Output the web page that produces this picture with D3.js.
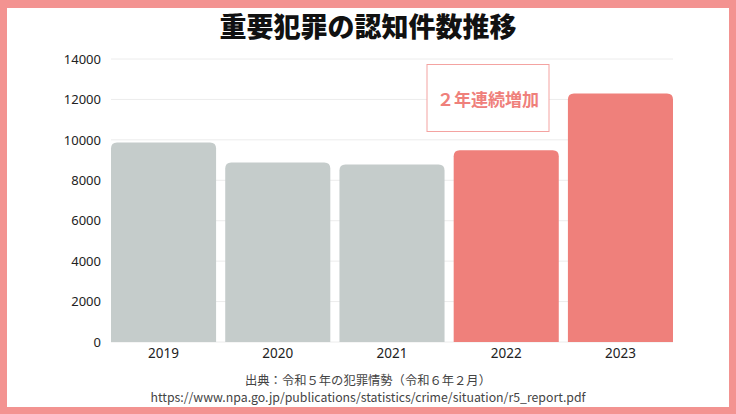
<!DOCTYPE html>
<html><head><meta charset="utf-8">
<script src="https://cdn.jsdelivr.net/npm/d3@7"></script>
<style>html,body{margin:0;padding:0;background:#fff;}svg{display:block;}</style>
</head><body>
<svg id="chart" width="736" height="414"></svg>
<script>
const years = ["2019","2020","2021","2022","2023"];
const counts = [9870, 8880, 8780, 9480, 12290];
const highlight = [false, false, false, true, true];
const yTicks = [0,2000,4000,6000,8000,10000,12000,14000];
const titleText = "重要犯罪の認知件数推移";
const noteText = "２年連続増加";
const sourceLines = ["出典：令和５年の犯罪情勢（令和６年２月）","https://www.npa.go.jp/publications/statistics/crime/situation/r5_report.pdf"];

const W = 736, H = 414;
const svg = d3.select("#chart");
const font = "'Noto Sans CJK JP','Noto Sans',sans-serif";
const numFont = "'Noto Sans',sans-serif";
const pink = "#f39391";

svg.append("rect").attr("x",0).attr("y",0).attr("width",W).attr("height",H).attr("fill",pink);
svg.append("rect").attr("x",7).attr("y",8).attr("width",W-14).attr("height",H-15).attr("fill","#fff");

const x = d3.scaleBand().domain(years).range([111,673]).paddingInner(0.08).paddingOuter(0);
const y = d3.scaleLinear().domain([0,14000]).range([342,59]);

const g = svg.append("g");
g.selectAll("line.grid").data(yTicks).join("line")
  .attr("x1",111).attr("x2",673)
  .attr("y1",d=>y(d)).attr("y2",d=>y(d))
  .attr("stroke","#ececec").attr("stroke-width",1);

const yAxis = d3.axisLeft(y).tickValues(yTicks).tickSize(0).tickPadding(0).tickFormat(d3.format("d"));
const ya = svg.append("g").attr("transform","translate(101,0)").call(yAxis);
ya.select(".domain").remove();
ya.selectAll("text").attr("font-family",numFont).attr("font-size",13).attr("fill","#222");

const r = 6;
function barPath(x0,y0,w,h){
  const rr = Math.min(r,h);
  return `M${x0},${y0+h}V${y0+rr}Q${x0},${y0} ${x0+rr},${y0}H${x0+w-rr}Q${x0+w},${y0} ${x0+w},${y0+rr}V${y0+h}Z`;
}
g.selectAll("path.bar").data(years).join("path")
  .attr("d",(d,i)=>barPath(x(d), y(counts[i]), x.bandwidth(), y(0)-y(counts[i])))
  .attr("fill",(d,i)=>highlight[i] ? "#ef807b" : "#c5cccb");

const xAxis = d3.axisBottom(x).tickSize(0).tickPadding(0);
const xa = svg.append("g").attr("transform","translate(0,346)").call(xAxis);
xa.select(".domain").remove();
xa.selectAll("text").attr("font-family",numFont).attr("font-size",13.5).attr("fill","#222").attr("dy","0.9em");

// annotation box
svg.append("rect").attr("x",427).attr("y",64.5).attr("width",122).attr("height",67)
  .attr("fill","#fff").attr("stroke","#f4a3a1").attr("stroke-width",1);
svg.append("text").attr("x",488).attr("y",98).attr("text-anchor","middle").attr("dominant-baseline","central")
  .attr("font-family",font).attr("font-weight","bold").attr("font-size",17).attr("fill","#ef807b")
  .text(noteText);

svg.append("text").attr("x",368).attr("y",25).attr("text-anchor","middle").attr("dominant-baseline","central")
  .attr("font-family",font).attr("font-weight","900").attr("font-size",27).attr("fill","#111")
  .text(titleText);

svg.selectAll("text.src").data(sourceLines).join("text")
  .attr("x",368).attr("y",(d,i)=>380+i*17).attr("text-anchor","middle").attr("dominant-baseline","central")
  .attr("font-family",font).attr("font-size",12.3).attr("fill","#444")
  .text(d=>d);
</script>
</body></html>
